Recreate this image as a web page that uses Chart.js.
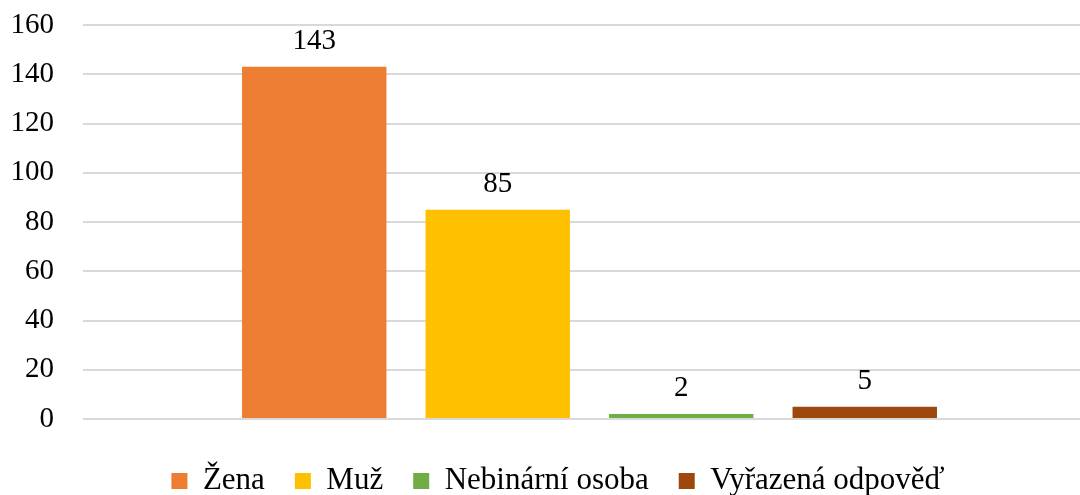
<!DOCTYPE html>
<html>
<head>
<meta charset="utf-8">
<script src="https://cdn.jsdelivr.net/npm/chart.js@4.4.1/dist/chart.umd.min.js"></script>
<style>
  html, body { margin: 0; padding: 0; background: #fff; overflow: hidden; }
  #wrap { position: relative; width: 1096px; height: 495px; }
</style>
</head>
<body>
<div id="wrap"><canvas id="myChart"></canvas></div>
<script>
// chart data
const categories = [''];
const seriesNames = ['Žena', 'Muž', 'Nebinární osoba', 'Vyřazená odpověď'];
const seriesValues = [143, 85, 2, 5];
const yMin = 0;
const yMax = 160;
const yStep = 20;

const seriesColors = ['#ED7D31', '#FFC000', '#70AD47', '#9E480E'];
const fontFamily = '"Liberation Serif", "Times New Roman", serif';

// value labels above each bar
const barLabels = {
  id: 'barLabels',
  afterDatasetsDraw(chart) {
    const ctx = chart.ctx;
    ctx.save();
    ctx.font = '29px ' + fontFamily;
    ctx.fillStyle = '#000';
    ctx.textAlign = 'center';
    ctx.textBaseline = 'alphabetic';
    chart.data.datasets.forEach((ds, i) => {
      const meta = chart.getDatasetMeta(i);
      meta.data.forEach((bar, j) => {
        ctx.fillText(String(ds.data[j]), bar.x, bar.y - 18);
      });
    });
    ctx.restore();
  }
};

// legend sits a bit right of the canvas centre (page is cropped)
const legendShift = {
  id: 'legendShift',
  afterLayout(chart) {
    if (chart.legend) {
      chart.legend.left += 10;
      chart.legend.right += 10;
    }
  }
};

const datasets = seriesNames.map((name, i) => ({
  label: name,
  data: [seriesValues[i]],
  backgroundColor: seriesColors[i],
  borderWidth: 0,
  categoryPercentage: 0.7246,
  barPercentage: 0.787
}));

new Chart(document.getElementById('myChart').getContext('2d'), {
  type: 'bar',
  data: { labels: categories, datasets: datasets },
  plugins: [barLabels, legendShift],
  options: {
    responsive: true,
    maintainAspectRatio: false,
    animation: false,
    layout: { padding: { top: 25, left: 0, right: 0, bottom: -11.5 } },
    plugins: {
      tooltip: { enabled: false },
      legend: {
        position: 'bottom',
        labels: {
          boxWidth: 16,
          boxHeight: 16,
          padding: 30,
          color: '#000',
          font: { family: fontFamily, size: 31 }
        }
      }
    },
    scales: {
      x: {
        display: true,
        grid: { display: false },
        border: { display: false },
        ticks: { display: false },
        afterFit(axis) { axis.height = 16.5; }
      },
      y: {
        min: yMin,
        max: yMax,
        grid: {
          color: '#D9D9D9',
          lineWidth: 2,
          drawTicks: true,
          tickLength: 29,
          tickColor: 'rgba(0,0,0,0)'
        },
        border: { display: false },
        ticks: {
          stepSize: yStep,
          padding: 0,
          color: '#000',
          font: { family: fontFamily, size: 29 }
        },
        afterFit(axis) { axis.width = 83; }
      }
    }
  }
});
</script>
</body>
</html>
